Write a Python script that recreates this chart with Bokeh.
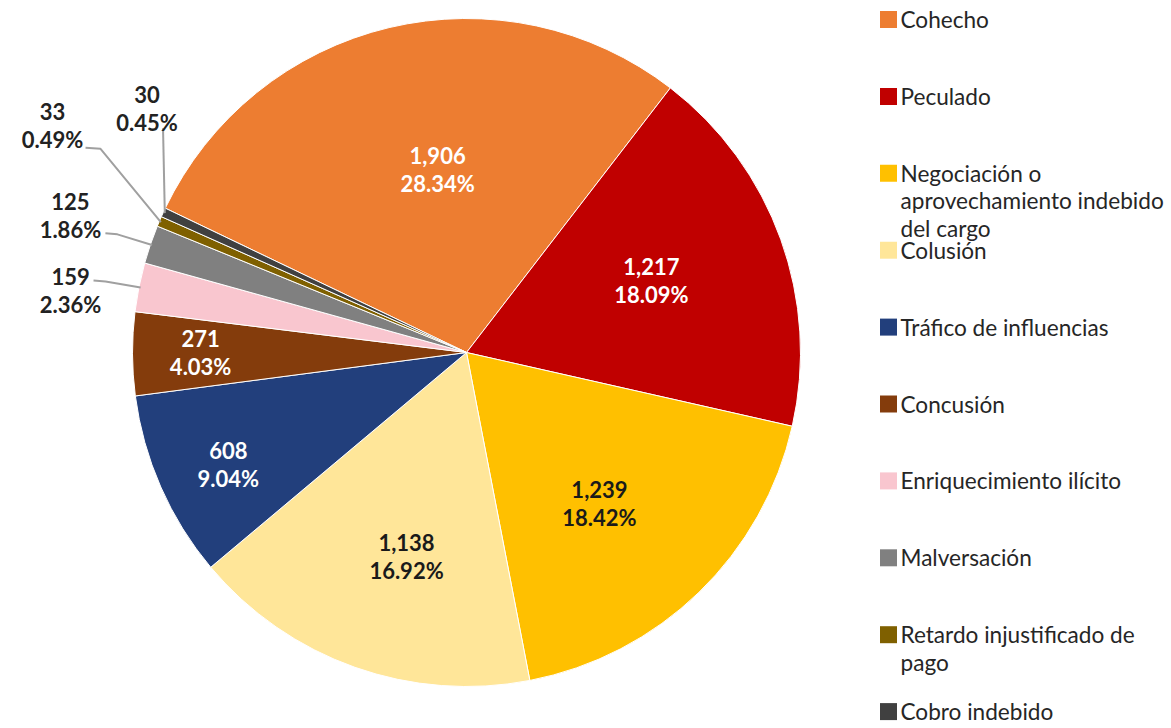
import math
import textwrap
from bokeh.plotting import figure
from bokeh.models import Range1d, ColumnDataSource
from bokeh.core.properties import value
from bokeh.embed import file_html
from bokeh.resources import INLINE

# ---------------- data ----------------
categories = [
    "Cohecho",
    "Peculado",
    "Negociación o aprovechamiento indebido del cargo",
    "Colusión",
    "Tráfico de influencias",
    "Concusión",
    "Enriquecimiento ilícito",
    "Malversación",
    "Retardo injustificado de pago",
    "Cobro indebido",
]
counts = [1906, 1217, 1239, 1138, 608, 271, 159, 125, 33, 30]
colors = ["#ED7D31", "#C00000", "#FFC000", "#FFE699", "#223F7C",
          "#843C0C", "#F9C6CF", "#808080", "#7F6000", "#404040"]

# ---------------- layout / style ----------------
W, H = 1171, 728
CX, CY = 466, 352                # pie centre in page pixels
PIE_R = 334
FIRST_SLICE_DEG = -64.4          # clockwise from 12 o'clock
LABEL_ANGLE = [-9.0, 68.7, 138.6, 196.4, 244.8, 270.0, 278.9, 289.1, 298.7, 307.4]
LABEL_RFRAC = [0.554, 0.594, 0.602, 0.636, 0.788, 0.796, 1.20, 1.255, 1.413, 1.204]
LABEL_COLOR = ["#FFFFFF", "#FFFFFF", "#1A1A1A", "#1A1A1A", "#FFFFFF",
               "#FFFFFF", "#222222", "#222222", "#222222", "#222222"]
# leader lines for outside labels: (attach dx, attach dy, elbow length)
LEADERS = {6: (23, 10, 12), 7: (35, -18, 12), 8: (33, -22, 15), 9: (16, -20, 0)}
FONT = "Lato"

total = sum(counts)
fracs = [c / total for c in counts]

p = figure(width=W, height=H, output_backend="svg", toolbar_location=None,
           x_range=Range1d(-CX, W - CX), y_range=Range1d(CY - H, CY),
           x_axis_type=None, y_axis_type=None, min_border=0)
p.grid.visible = False
p.outline_line_color = None
p.background_fill_color = "white"
p.border_fill_color = "white"

# ---------------- wedges ----------------
starts, ends, mids = [], [], []
acc = FIRST_SLICE_DEG
for f in fracs:
    a0 = acc
    a1 = acc + f * 360.0
    starts.append(math.radians(90 - a0))
    ends.append(math.radians(90 - a1))
    mids.append((a0 + a1) / 2)
    acc = a1

src = ColumnDataSource(dict(start=starts, end=ends, color=colors))
p.wedge(x=0, y=0, radius=PIE_R, start_angle="start", end_angle="end",
        direction="clock", fill_color="color", line_color="white",
        line_width=1, source=src)

# ---------------- leader lines ----------------
for i, (adx, ady, elb) in LEADERS.items():
    la = math.radians(LABEL_ANGLE[i])
    lx = PIE_R * LABEL_RFRAC[i] * math.sin(la)
    ly = PIE_R * LABEL_RFRAC[i] * math.cos(la)
    ma = math.radians(mids[i])
    ex = PIE_R * 0.995 * math.sin(ma)
    ey = PIE_R * 0.995 * math.cos(ma)
    ax, ay = lx + adx, ly + ady
    xs = [ax, ax + elb, ex]
    ys = [ay, ay - (1 if elb else 0), ey]
    p.line(xs, ys, line_color="#A0A0A0", line_width=2)

# ---------------- data labels ----------------
for i, c in enumerate(counts):
    a = math.radians(LABEL_ANGLE[i])
    lx = PIE_R * LABEL_RFRAC[i] * math.sin(a)
    ly = PIE_R * LABEL_RFRAC[i] * math.cos(a)
    pct = f"{c / total * 100:.2f}%"
    p.text(x=[lx, lx], y=[ly + 14, ly - 14], text=[f"{c:,}", pct],
           text_align="center", text_baseline="middle",
           text_font=value(FONT), text_font_style="bold",
           text_font_size="22px", text_color=LABEL_COLOR[i])

# ---------------- legend ----------------
LEG_X = 888 - CX
LEG_TOP = CY - 19
LEG_STEP = 76.9
LINE_H = 27.5
for i, name in enumerate(categories):
    y0 = LEG_TOP - i * LEG_STEP
    p.rect(x=[LEG_X], y=[y0], width=17, height=17, fill_color=colors[i],
           line_color=None)
    lines = textwrap.wrap(name, 24)
    p.text(x=[LEG_X + 12] * len(lines),
           y=[y0 - k * LINE_H for k in range(len(lines))],
           text=lines, text_align="left", text_baseline="middle",
           text_font=value(FONT), text_font_size="22.6px", text_color="#262626")

open("out.html", "w").write(file_html(p, INLINE))
